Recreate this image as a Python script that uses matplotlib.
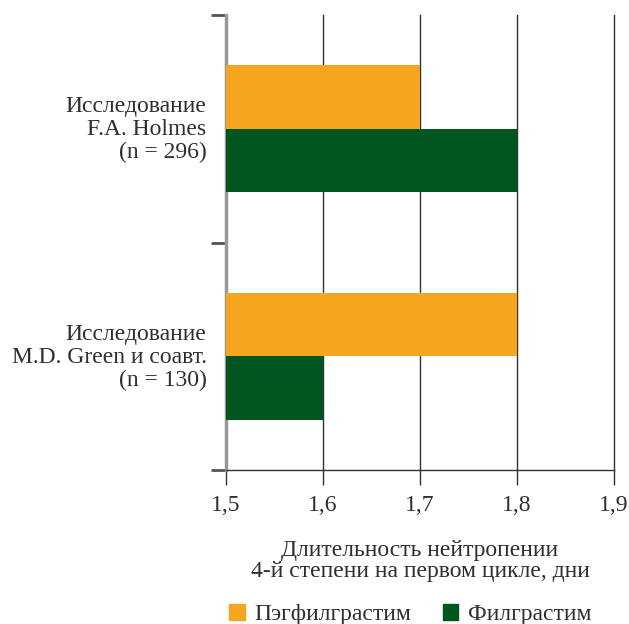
import matplotlib
matplotlib.use('Agg')
import matplotlib.pyplot as plt
import numpy as np
from matplotlib.patches import Patch

plt.rcParams['font.family'] = ['Liberation Serif', 'DejaVu Serif']
plt.rcParams['text.color'] = '#2e2e2e'
plt.rcParams['xtick.labelcolor'] = '#2e2e2e'
plt.rcParams['ytick.labelcolor'] = '#2e2e2e'
plt.rcParams['axes.labelcolor'] = '#2e2e2e'

# Study groups and mean duration of grade 4 neutropenia, days
studies = ['Исследование\nF.A. Holmes\n(n = 296)',
           'Исследование\nM.D. Green и соавт.\n(n = 130)']
pegfilgrastim = [1.7, 1.8]
filgrastim = [1.8, 1.6]
xticks = [1.5, 1.6, 1.7, 1.8, 1.9]
xticklabels = ['1,5', '1,6', '1,7', '1,8', '1,9']

orange = '#F6A51E'
green = '#00561F'
fs = 17

fig = plt.figure(figsize=(6.29, 6.24), dpi=100)
ax = fig.add_axes([226 / 629, 1 - 470 / 624, 388 / 629, 455 / 624])

y = np.arange(len(studies))
h = 0.28
ax.barh(y - h / 2, pegfilgrastim, height=h, left=0, color=orange, zorder=3)
ax.barh(y + h / 2, filgrastim, height=h, left=0, color=green, zorder=3)

ax.set_xlim(1.5, 1.9)
ax.set_ylim(1.5, -0.5)

ax.set_xticks(xticks)
ax.set_xticklabels(xticklabels, fontsize=fs)
ax.tick_params(axis='x', length=11, width=1, color='#333333', pad=7)
for xv in xticks[1:]:
    ax.axvline(xv, color='#333333', lw=1, zorder=1, clip_on=False)

ax.set_yticks([-0.5, 0.5, 1.5])
ax.set_yticklabels([])
ax.set_yticks(y - 0.01, minor=True)
ax.set_yticklabels(studies, minor=True, fontsize=fs, ha='right', linespacing=1.12)
ax.tick_params(axis='y', which='major', length=11, width=2, color='#555555')
ax.tick_params(axis='y', which='minor', length=0, pad=14)

for side in ['top', 'right']:
    ax.spines[side].set_visible(False)
ax.spines['left'].set_color('#999999')
ax.spines['left'].set_linewidth(2.5)
ax.spines['bottom'].set_color('#333333')
ax.spines['bottom'].set_linewidth(1)

ax.set_xlabel('Длительность нейтропении\n4-й степени на первом цикле, дни',
              fontsize=fs, labelpad=17, linespacing=1.0)

handles = [Patch(color=orange, label='Пэгфилграстим'),
           Patch(color=green, label='Филграстим')]
fig.legend(handles=handles, loc='lower center', bbox_to_anchor=(0.652, -0.036),
           ncol=2, frameon=False, fontsize=fs, handlelength=0.65, handleheight=0.65,
           columnspacing=1.35, handletextpad=0.4)

plt.savefig('out.png', dpi=100)
plt.close()
